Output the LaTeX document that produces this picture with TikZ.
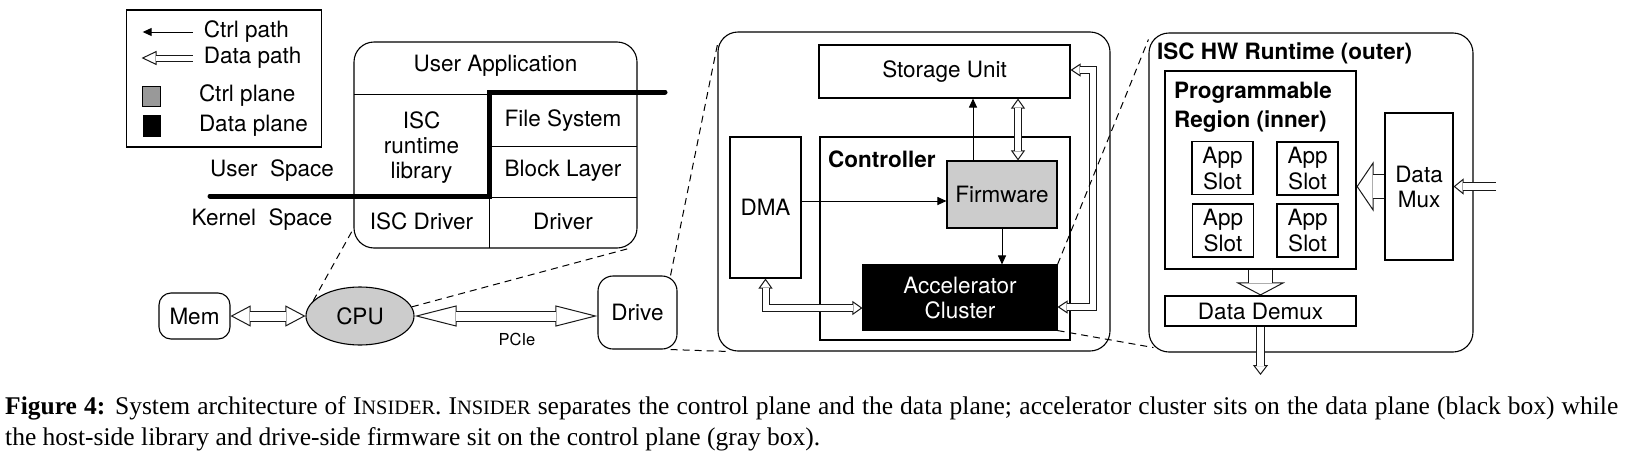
\documentclass[tikz,border=0pt]{standalone}
\usepackage{fontspec}
\setmainfont{TeX Gyre Heros}
\newfontfamily\capfont{Liberation Serif}
\usetikzlibrary{arrows.meta,shapes.geometric}

\definecolor{ctrlgray}{HTML}{CCCCCC}
\definecolor{legendgray}{HTML}{999999}
\newcommand{\insider}{I{\fontsize{20.4}{22}\selectfont NSIDER}}

\tikzset{
  box/.style={draw, line width=1.1pt, inner sep=0pt, align=center},
  ctrl/.style={line width=1pt, -{Triangle[length=9pt,width=8pt]}},
  dhead/.style 2 args={draw=black!90, line width=1pt, >={Triangle[fill=white,width=#1,length=#2]}},
  dshaft/.style={draw=black!90, line width=1pt, double=white, double distance=#1},
  zoomline/.style={line width=1pt, dash pattern=on 7pt off 5pt},
}

\begin{document}
\begin{tikzpicture}[x=1pt, y=-1pt, every node/.style={inner sep=0pt, font=\fontsize{22.5}{25}\selectfont}]
  \useasboundingbox (0,0) rectangle (1631,453);

  % Legend
  \node[box, minimum width=194.5pt, minimum height=137pt] (legend) at (224,78.5) {};
  \coordinate (ctrlA) at (192.6,32);
  \coordinate (ctrlB) at (142.7,32);
  \coordinate (dataA) at (192.6,58);
  \coordinate (dataB) at (141.5,58);
  \draw[ctrl] (ctrlA) -- (ctrlB);
  \draw[dhead={14pt}{15pt}, ->] (dataA) -- (dataB);
  \draw[dshaft=5pt, shorten >=14.3pt] (dataA) -- (dataB);
  \node[anchor=west] (ctrltxt) at (203.7,32) {Ctrl path};
  \node[anchor=west] (datatxt) at (203.7,58) {Data path};
  \fill[legendgray, draw=black, line width=0.8pt] (142.7,86) rectangle (160.6,106);
  \fill[black] (142.7,115) rectangle (160.6,137);
  \node[anchor=west] (cplane) at (198.8,96) {Ctrl plane};
  \node[anchor=west] (dplane) at (198.8,126) {Data plane};

  % Host software stack
  \node[box, rounded corners=20pt, minimum width=283pt, minimum height=206pt] (host) at (495.5,145) {};
  \draw[line width=1pt] (354,94) -- (637,94);
  \draw[line width=1pt] (489,94) -- (489,248);
  \draw[line width=1pt] (489,146) -- (637,146);
  \draw[line width=1pt] (354,197) -- (637,197);
  \draw[line width=5pt, line cap=round] (210,196) -- (489,196) -- (489,92) -- (665,92);
  \node (app) at (495.5,66) {User Application};
  \node[align=center] (rtlib) at (421.5,147.5) {ISC\\runtime\\library};
  \node (fs) at (563,121) {File System};
  \node (blk) at (563,171) {Block Layer};
  \node (iscdrv) at (421.5,221.5) {ISC Driver};
  \node (drv) at (563,221.5) {Driver};
  \node (uspace) at (272,171) {User\ \ Space};
  \node (kspace) at (262,220) {Kernel\ \ Space};

  % Host hardware
  \node[box, rounded corners=12pt, minimum width=71pt, minimum height=46pt] (mem) at (194.5,316) {Mem};
  \node[box, ellipse, fill=ctrlgray, minimum width=108pt, minimum height=58pt] (cpu) at (360,316) {CPU};
  \node[box, rounded corners=15pt, minimum width=79pt, minimum height=73pt] (drive) at (637.5,312.5) {Drive};
  \node[font=\fontsize{16.5}{18}\selectfont] (pcie) at (517,339) {PCIe};
  \draw[dhead={21pt}{20pt}, <->] (mem) -- (cpu);
  \draw[dshaft=9pt, shorten <=19.3pt, shorten >=19.3pt] (mem) -- (cpu);
  \draw[dhead={21pt}{42pt}, <->] (cpu.east) -- (cpu.east -| drive.west);
  \draw[dshaft=9pt, shorten <=41.3pt, shorten >=41.3pt] (cpu.east) -- (cpu.east -| drive.west);
  \draw[zoomline] (cpu.162) -- ([yshift=20pt]host.south west);
  \draw[zoomline] (cpu.10) -- ([xshift=-9pt]host.south east);

  % Drive internals
  \node[box, rounded corners=20pt, minimum width=392pt, minimum height=319pt] (ssd) at (914,191.5) {};
  \node[box, minimum width=251pt, minimum height=53pt] (storage) at (944.5,71.5) {Storage Unit};
  \node[box, minimum width=250pt, minimum height=203pt] (ctrlr) at (945,238.5) {};
  \node[anchor=west, font=\fontsize{22.5}{25}\selectfont\bfseries] (ctrlrtxt) at (828,159) {Controller};
  \node[box, minimum width=71pt, minimum height=141pt] (dma) at (765.5,207.5) {DMA};
  \node[box, fill=ctrlgray, minimum width=110pt, minimum height=67pt] (fw) at (1002,194.5) {Firmware};
  \node[box, fill=black, text=white, minimum width=194pt, minimum height=65pt] (accel) at (960,297.5) {Accelerator\\Cluster};
  \coordinate (fwin) at ([yshift=-6.5pt]fw.west);
  \coordinate (fwup) at ([xshift=-29pt]fw.north);
  \coordinate (fwdata) at ([xshift=16pt]fw.north);
  \draw[ctrl] (fwup) -- (fwup |- storage.south);
  \draw[ctrl] (dma.east |- fwin) -- (fwin);
  \draw[ctrl] (fw.south) -- (fw.south |- accel.north);
  \draw[dhead={14pt}{10pt}, <->] (fwdata |- storage.south) -- (fwdata);
  \draw[dshaft=6pt, shorten <=9.3pt, shorten >=9.3pt] (fwdata |- storage.south) -- (fwdata);
  \draw[dhead={14pt}{10pt}, <->] (dma.south) |- ([yshift=-10.5pt]accel.west);
  \draw[dshaft=6pt, shorten <=9.3pt, shorten >=9.3pt] (dma.south) |- ([yshift=-10.5pt]accel.west);
  \draw[dhead={13pt}{10pt}, <->] ([yshift=1.5pt]storage.east) -- ++(22,0) |- ([yshift=-9.5pt]accel.east);
  \draw[dshaft=6pt, shorten <=9.3pt, shorten >=9.3pt] ([yshift=1.5pt]storage.east) -- ++(22,0) |- ([yshift=-9.5pt]accel.east);
  \draw[zoomline] ([xshift=-7pt]drive.north east) -- ([yshift=-13pt]ssd.north west);
  \draw[zoomline] ([xshift=-7pt]drive.south east) -- ([xshift=13pt]ssd.south west);

  % ISC hardware runtime
  \node[box, rounded corners=20pt, minimum width=324pt, minimum height=319pt] (isc) at (1311,192.5) {};
  \node[anchor=west, font=\fontsize{22.5}{25}\selectfont\bfseries] (isctxt) at (1157,53) {ISC HW Runtime (outer)};
  \node[box, minimum width=191pt, minimum height=198pt] (region) at (1260.5,170) {};
  \node[anchor=west, align=left, font=\fontsize{22.5}{29}\selectfont\bfseries] (regiontxt) at (1174,107.5) {Programmable\\Region (inner)};
  \foreach \name/\pos in {slotA/{(1222.5,168)}, slotB/{(1307.5,168.5)}, slotC/{(1223,230.5)}, slotD/{(1307.5,230.5)}}
    \node[box, font=\fontsize{22.5}{26}\selectfont, minimum width=61pt, minimum height=53pt] (\name) at \pos {App\\Slot};
  \node[box, minimum width=68pt, minimum height=147pt] (mux) at (1419,186.5) {Data\\Mux};
  \node[box, minimum width=191pt, minimum height=30pt] (demux) at (1260.5,311) {Data Demux};
  \coordinate (muxin) at (1496,186.5);
  \coordinate (out) at (1260.5,375);
  \draw[dhead={50pt}{17pt}, ->] (mux.west) -- (mux.west -| region.east);
  \draw[dshaft=23pt, shorten >=16.3pt] (mux.west) -- (mux.west -| region.east);
  \draw[dhead={16pt}{10pt}, ->] (muxin) -- (mux.east);
  \draw[dshaft=7pt, shorten >=9.3pt] (muxin) -- (mux.east);
  \draw[dhead={49pt}{13pt}, ->] (region.south) -- (demux.north);
  \draw[dshaft=23pt, shorten >=12.3pt] (region.south) -- (demux.north);
  \draw[dhead={15pt}{10pt}, ->] (demux.south) -- (out);
  \draw[dshaft=7pt, shorten >=9.3pt] (demux.south) -- (out);
  \draw[zoomline] (accel.north east) -- ([yshift=-7pt]isc.north west);
  \draw[zoomline] (accel.south east) -- ([xshift=5pt,yshift=5pt]isc.south west);

  % Caption
  \node[anchor=base west, font=\capfont\fontsize{25.5}{30}\selectfont] (capA) at (5,414)
    {\makebox[1613pt][s]{\textbf{Figure 4:} System architecture of \insider. \insider{} separates the control plane and the data plane; accelerator cluster sits on the data plane (black box) while}};
  \node[anchor=base west, font=\capfont\fontsize{25.5}{30}\selectfont] (capB) at (5,445)
    {the host-side library and drive-side firmware sit on the control plane (gray box).};
\end{tikzpicture}
\end{document}
